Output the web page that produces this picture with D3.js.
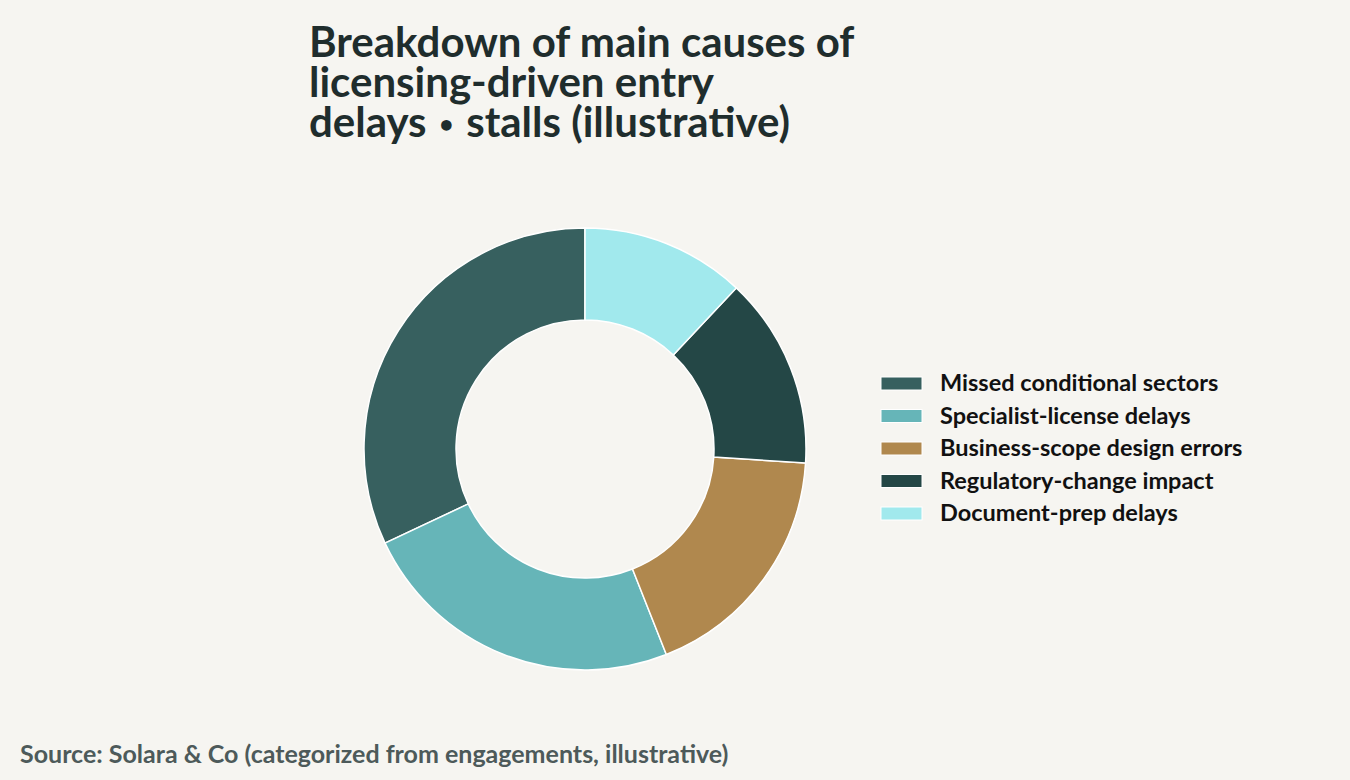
<!DOCTYPE html>
<html>
<head>
<meta charset="utf-8">
<script src="https://cdn.jsdelivr.net/npm/d3@7"></script>
<style>
  body { margin: 0; background: #f6f5f1; }
  svg text { font-family: "Source Sans Pro", Lato, "Noto Sans", sans-serif; }
</style>
</head>
<body>
<div id="wrapper"></div>
<script>
// data
const categories = [
  "Missed conditional sectors",
  "Specialist-license delays",
  "Business-scope design errors",
  "Regulatory-change impact",
  "Document-prep delays"
]
const shares = [32, 24, 18, 14, 12]
const colors = ["#37605f", "#66b5b8", "#b0884e", "#244746", "#a1e9ed"]
const titleLines = [
  "Breakdown of main causes of",
  "licensing-driven entry",
  "delays \u2022 stalls (illustrative)"
]
const sourceText = "Source: Solara & Co (categorized from engagements, illustrative)"

function donutChart() {
  const dimensions = { width: 1350, height: 780 }
  const center = { x: 585, y: 449 }
  const outerR = 221
  const innerR = 129

  const svg = d3.select("#wrapper")
    .append("svg")
    .attr("width", dimensions.width)
    .attr("height", dimensions.height)

  svg.append("rect")
    .attr("width", dimensions.width)
    .attr("height", dimensions.height)
    .attr("fill", "#f6f5f1")

  // title, the bullet gets a smaller glyph from another face
  const title = svg.append("text")
    .attr("x", 309)
    .attr("y", 57)
    .attr("fill", "#1f2d2d")
    .style("font-size", "42px")
    .style("font-weight", 700)
  titleLines.forEach((line, i) => {
    const parts = line.split(/(\u2022)/)
    parts.forEach((p, j) => {
      const t = title.append("tspan").text(p)
      if (j === 0) t.attr("x", 309).attr("dy", i === 0 ? 0 : 40)
      if (p === "\u2022") t.style("font-family", "'DejaVu Sans'").style("font-size", "30px")
    })
  })

  // pie, counter-clockwise from 12 o'clock
  const rows = categories.map((c, i) => ({ name: c, value: shares[i], color: colors[i] }))
  const pie = d3.pie()
    .sort(null)
    .value(d => d.value)
    .startAngle(0)
    .endAngle(-2 * Math.PI)
  const arc = d3.arc().innerRadius(innerR).outerRadius(outerR)

  svg.append("g")
    .attr("transform", `translate(${center.x},${center.y})`)
    .selectAll("path")
    .data(pie(rows))
    .join("path")
    .attr("d", arc)
    .attr("fill", d => d.data.color)
    .attr("stroke", "#ffffff")
    .attr("stroke-width", 1.5)

  // legend
  const legend = svg.append("g").attr("transform", "translate(881,377)")
  const item = legend.selectAll("g")
    .data(rows)
    .join("g")
    .attr("transform", (d, i) => `translate(0,${i * 32.5})`)
  item.append("rect")
    .attr("width", 41)
    .attr("height", 13)
    .attr("fill", d => d.color)
    .attr("stroke", "#ffffff")
    .attr("stroke-width", 1)
  item.append("text")
    .attr("x", 59)
    .attr("y", 14)
    .attr("fill", "#111111")
    .style("font-size", "23.5px")
    .style("font-weight", 700)
    .text(d => d.name)

  // source
  svg.append("text")
    .attr("x", 20)
    .attr("y", 763)
    .attr("fill", "#4d5a5a")
    .style("font-size", "25px")
    .style("font-weight", 700)
    .text(sourceText)
}
donutChart()
</script>
</body>
</html>
